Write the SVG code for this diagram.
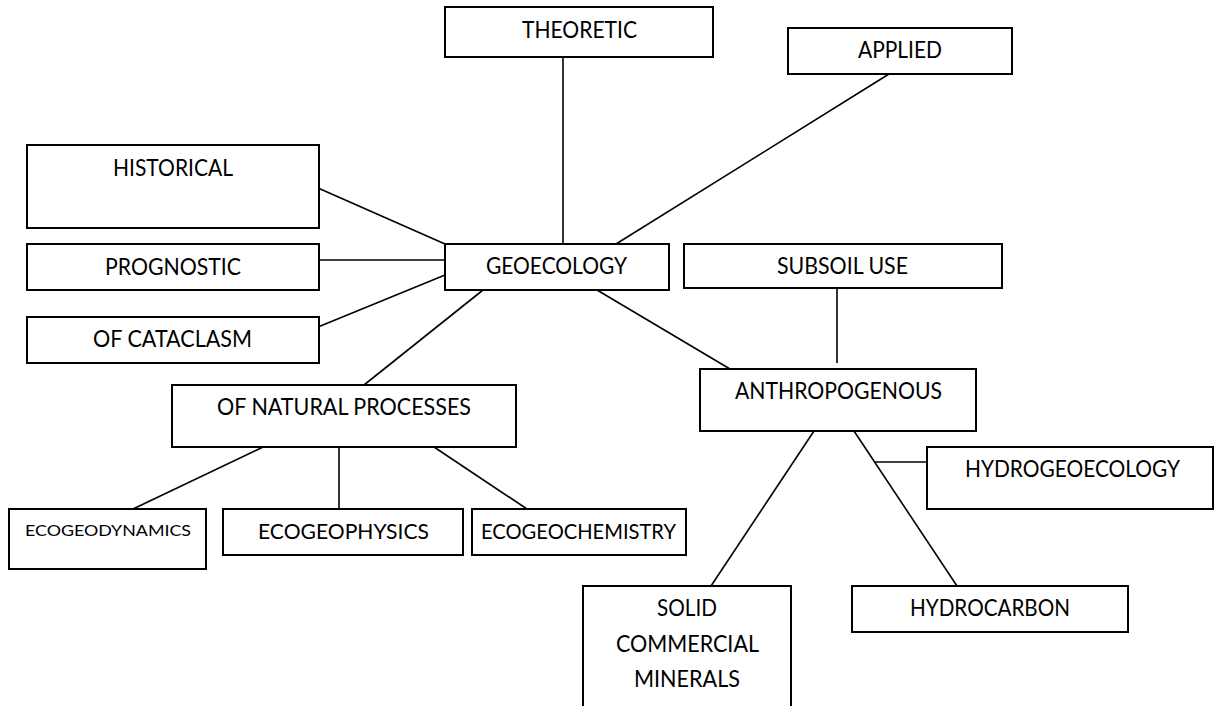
<svg xmlns="http://www.w3.org/2000/svg" width="1215" height="706" viewBox="0 0 1215 706">
<style>
.box{fill:#fff;stroke:#000;stroke-width:2}
.t{font-family:Lato,"Open Sans","Liberation Sans",sans-serif;font-size:23px;fill:#000}
.s{font-size:21px}
.xs{font-size:16px}
.c line{stroke:#000;stroke-width:1.6}
</style>
<rect width="1215" height="706" fill="#fff"/>
<g id="connectors" class="c">
<line x1="563" y1="57" x2="563" y2="244"/>
<line x1="889" y1="74" x2="616" y2="244"/>
<line x1="318" y1="188" x2="445" y2="244"/>
<line x1="318" y1="260" x2="445" y2="260"/>
<line x1="318" y1="327" x2="445" y2="275"/>
<line x1="483" y1="290" x2="364" y2="385"/>
<line x1="597" y1="290" x2="730" y2="369"/>
<line x1="837" y1="288" x2="837" y2="363"/>
<line x1="263" y1="447" x2="133" y2="509"/>
<line x1="339" y1="447" x2="339" y2="509"/>
<line x1="434" y1="447" x2="527" y2="509"/>
<line x1="814" y1="431" x2="711" y2="586"/>
<line x1="854" y1="431" x2="957" y2="586"/>
<line x1="875" y1="462" x2="927" y2="462"/>
</g>
<g id="theoretic"><rect class="box" x="445" y="7" width="268" height="50"/><text class="t" x="522" y="38" textLength="115" lengthAdjust="spacingAndGlyphs">THEORETIC</text></g>
<g id="applied"><rect class="box" x="788" y="28" width="224" height="46"/><text class="t" x="858" y="58" textLength="84" lengthAdjust="spacingAndGlyphs">APPLIED</text></g>
<g id="historical"><rect class="box" x="27" y="145" width="292" height="83"/><text class="t" x="113" y="176" textLength="120" lengthAdjust="spacingAndGlyphs">HISTORICAL</text></g>
<g id="prognostic"><rect class="box" x="27" y="244" width="292" height="46"/><text class="t" x="105" y="275" textLength="136" lengthAdjust="spacingAndGlyphs">PROGNOSTIC</text></g>
<g id="cataclasm"><rect class="box" x="27" y="317" width="292" height="46"/><text class="t" x="93" y="347" textLength="159" lengthAdjust="spacingAndGlyphs">OF CATACLASM</text></g>
<g id="geoecology"><rect class="box" x="445" y="244" width="224" height="46"/><text class="t" x="486" y="274" textLength="141" lengthAdjust="spacingAndGlyphs">GEOECOLOGY</text></g>
<g id="subsoil"><rect class="box" x="684" y="244" width="318" height="44"/><text class="t" x="777" y="274" textLength="131" lengthAdjust="spacingAndGlyphs">SUBSOIL USE</text></g>
<g id="natural"><rect class="box" x="172" y="385" width="344" height="62"/><text class="t" x="217" y="415" textLength="254" lengthAdjust="spacingAndGlyphs">OF NATURAL PROCESSES</text></g>
<g id="anthropogenous"><rect class="box" x="700" y="369" width="276" height="62"/><text class="t" x="735" y="399" textLength="207" lengthAdjust="spacingAndGlyphs">ANTHROPOGENOUS</text></g>
<g id="hydrogeoecology"><rect class="box" x="927" y="447" width="286" height="62"/><text class="t" x="965" y="477" textLength="215" lengthAdjust="spacingAndGlyphs">HYDROGEOECOLOGY</text></g>
<g id="ecogeodynamics"><rect class="box" x="9" y="509" width="197" height="60"/><text class="t xs" x="25" y="536" textLength="166" lengthAdjust="spacingAndGlyphs">ECOGEODYNAMICS</text></g>
<g id="ecogeophysics"><rect class="box" x="223" y="509" width="240" height="46"/><text class="t s" x="258" y="539" textLength="171" lengthAdjust="spacingAndGlyphs">ECOGEOPHYSICS</text></g>
<g id="ecogeochemistry"><rect class="box" x="472" y="509" width="214" height="46"/><text class="t s" x="481" y="539" textLength="195" lengthAdjust="spacingAndGlyphs">ECOGEOCHEMISTRY</text></g>
<g id="solid"><rect class="box" x="583" y="586" width="208" height="140"/><text class="t" x="657" y="616" textLength="60" lengthAdjust="spacingAndGlyphs">SOLID</text><text class="t" x="616" y="652" textLength="143" lengthAdjust="spacingAndGlyphs">COMMERCIAL</text><text class="t" x="634" y="687" textLength="106" lengthAdjust="spacingAndGlyphs">MINERALS</text></g>
<g id="hydrocarbon"><rect class="box" x="852" y="586" width="276" height="46"/><text class="t" x="910" y="616" textLength="160" lengthAdjust="spacingAndGlyphs">HYDROCARBON</text></g>
</svg>
